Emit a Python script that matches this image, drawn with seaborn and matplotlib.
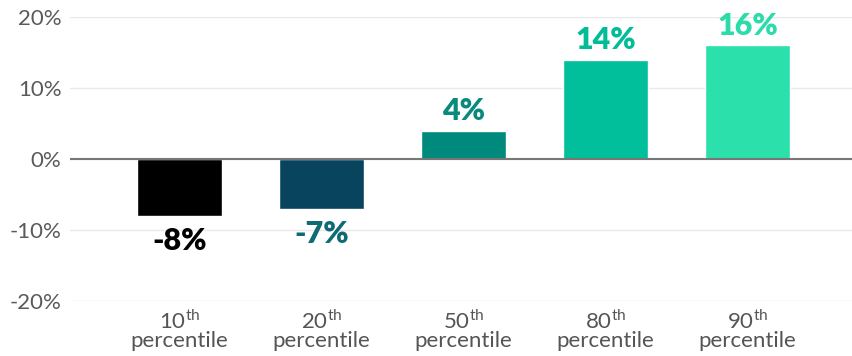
import matplotlib
matplotlib.use("Agg")
import matplotlib.pyplot as plt
import seaborn as sns
import pandas as pd

categories = ["10$^{\\rm th}$\npercentile", "20$^{\\rm th}$\npercentile", "50$^{\\rm th}$\npercentile",
              "80$^{\\rm th}$\npercentile", "90$^{\\rm th}$\npercentile"]
values = [-8, -7, 4, 14, 16]
value_labels = ["-8%", "-7%", "4%", "14%", "16%"]
bar_colors = ["#000000", "#08445e", "#008a7e", "#00bf9a", "#2be0ab"]
label_colors = ["#000000", "#0e6b73", "#0a8a7d", "#00bd97", "#2bdcaa"]
yticks = [-20, -10, 0, 10, 20]
ytick_labels = ["-20%", "-10%", "0%", "10%", "20%"]

sns.set_style("white")
plt.rcParams["font.family"] = ["Lato", "DejaVu Sans"]
plt.rcParams["mathtext.fontset"] = "custom"
plt.rcParams["mathtext.rm"] = "Lato"

df = pd.DataFrame({"cat": categories, "val": values})

fig = plt.figure(figsize=(8.52, 3.56), dpi=100)
ax = fig.add_axes([0.082, 0.1545, 0.918, 0.7975])

sns.barplot(data=df, x="cat", y="val", hue="cat", palette=bar_colors,
            width=0.6, legend=False, ax=ax, saturation=1, zorder=3)

ax.set_ylim(-20, 20)
ax.set_xlim(-0.771, 4.736)
ax.set_yticks(yticks)
ax.set_yticklabels(ytick_labels)
ax.yaxis.grid(True, color="#e9e9e9", linewidth=1, zorder=0)
ax.set_axisbelow(True)
ax.axhline(0, color="#777777", linewidth=1.5, zorder=4)
for s in ax.spines.values():
    s.set_visible(False)
ax.set_xlabel("")
ax.set_ylabel("")
ax.tick_params(axis="y", length=0, pad=6, labelsize=16, labelcolor="#5a5a5a")
ax.tick_params(axis="x", length=0, pad=6, labelsize=16, labelcolor="#555555")
for t in ax.get_xticklabels():
    t.set_linespacing(0.85)

for i, (v, lab, c) in enumerate(zip(values, value_labels, label_colors)):
    off = 14 if v > 0 else -18
    ax.annotate(lab, xy=(i, v), xytext=(0, off), textcoords="offset points",
                ha="center", va="center", fontsize=22, fontweight="heavy", color=c)

fig.savefig("out.png", dpi=100)
